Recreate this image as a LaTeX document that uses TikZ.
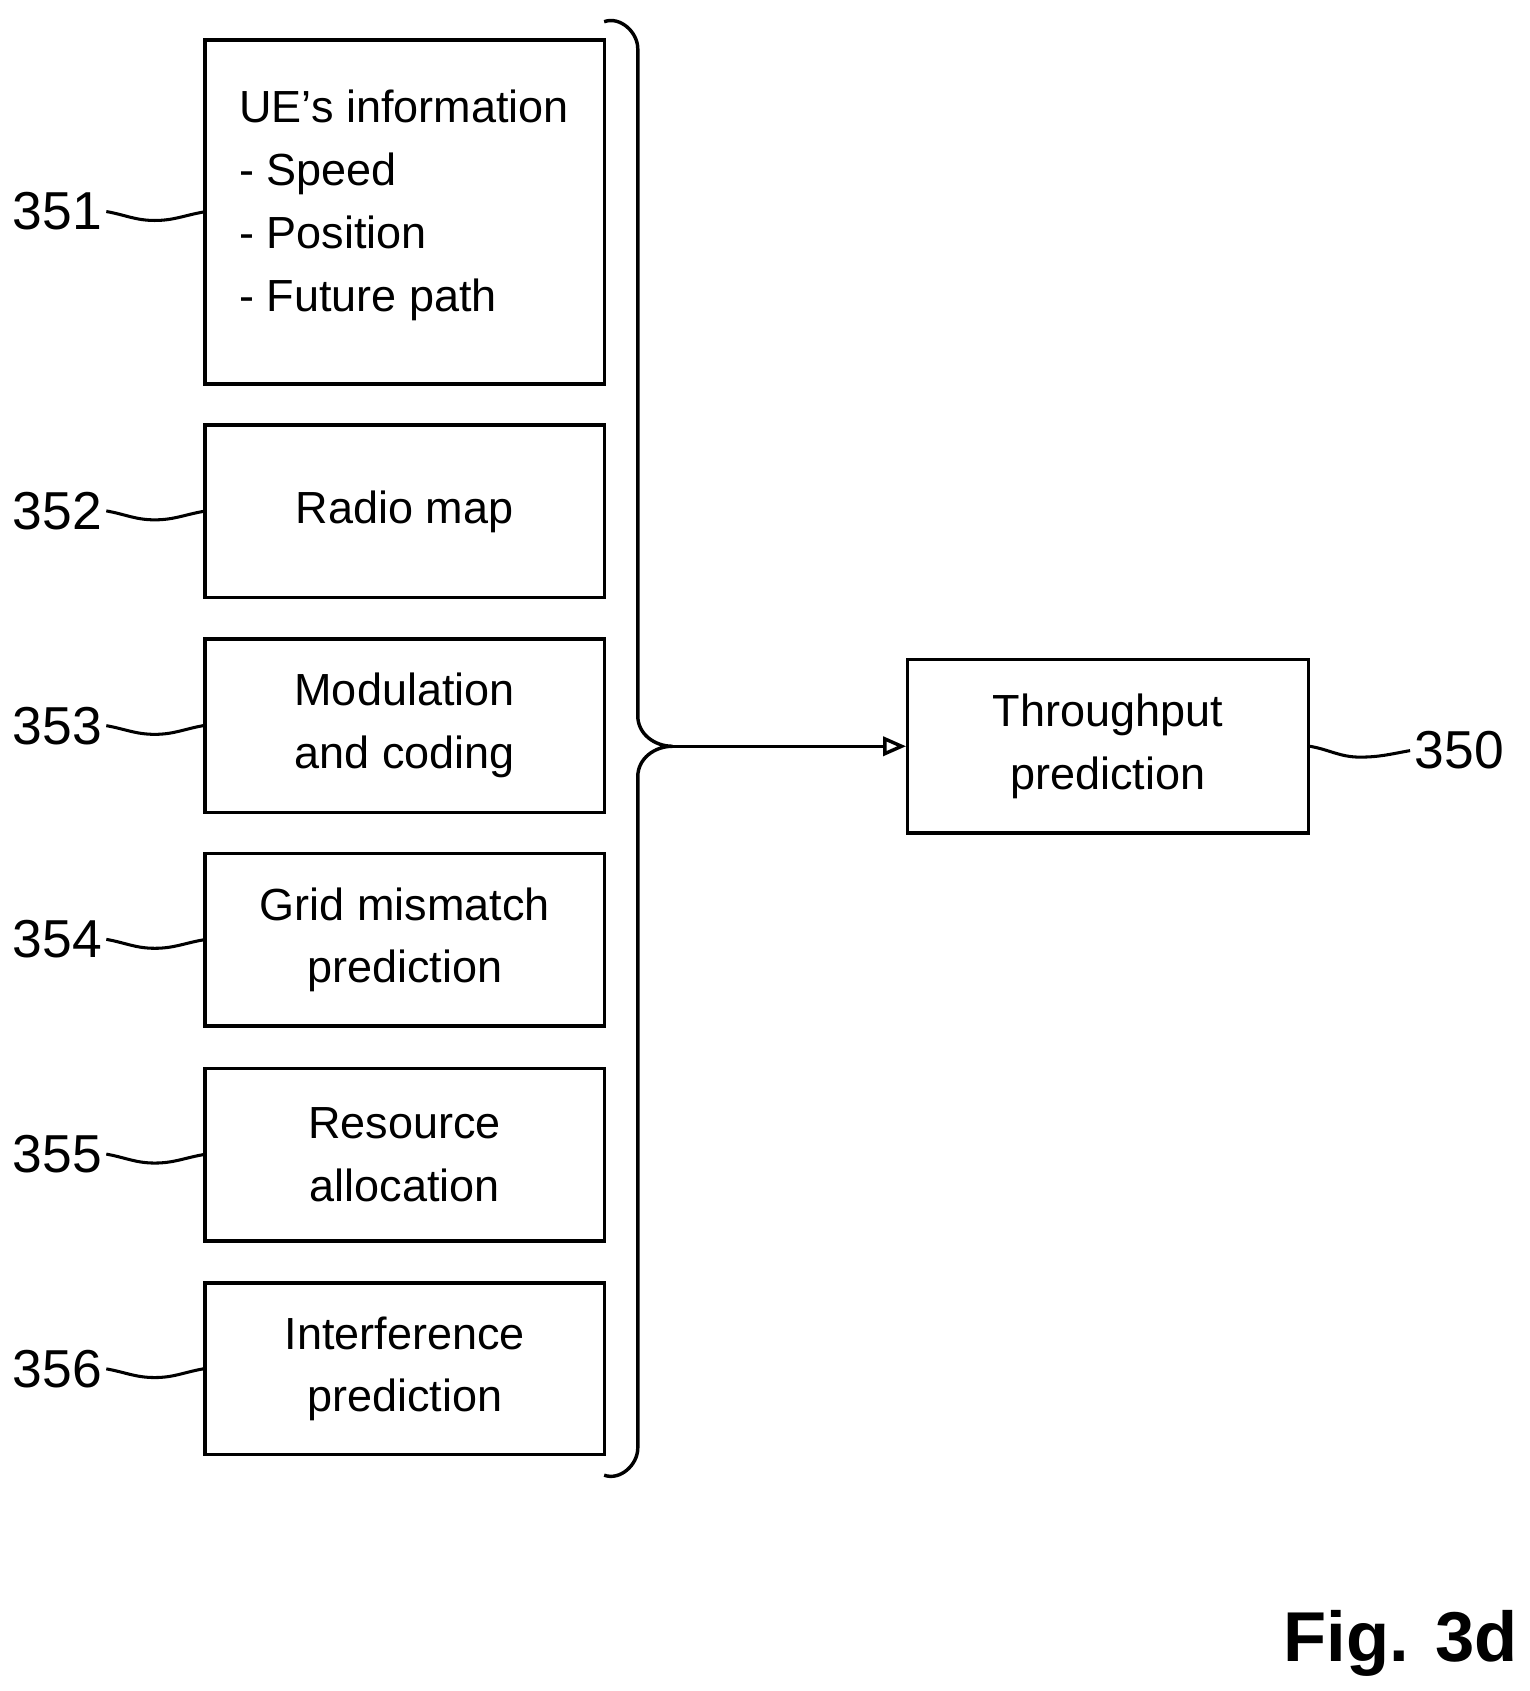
\documentclass[tikz,border=0pt]{standalone}
\usepackage{fontspec}
\setmainfont{Liberation Sans}
\usetikzlibrary{calc,arrows.meta}
\begin{document}
\begin{tikzpicture}[x=0.01cm,y=-0.01cm,
  bx/.style={draw,line width=0.9pt,inner sep=0pt,font=\fontsize{11.8}{16.5}\selectfont,align=center},
  lab/.style={font=\fontsize{14}{17}\selectfont,inner sep=1pt},
  sq/.style={line width=0.8pt}]
\useasboundingbox (0,0) rectangle (1410,1559);
\newcommand{\mybox}[4]{\node[bx,minimum width=3.68cm,minimum height=#3] (#1) at (373,#2) {#4};}
\mybox{b1}{195.5}{3.17cm}{}
\node[font=\fontsize{11.8}{16.5}\selectfont,align=left,anchor=north west,inner sep=0pt] at (220,82) {UE's information\\- Speed\\- Position\\- Future path};
\mybox{b2}{471.5}{1.59cm}{Radio map}
\mybox{b3}{669}{1.60cm}{Modulation\\and coding}
\mybox{b4}{866.5}{1.59cm}{Grid mismatch\\prediction}
\mybox{b5}{1064.5}{1.59cm}{Resource\\allocation}
\mybox{b6}{1262}{1.58cm}{Interference\\prediction}
\node[bx,minimum width=3.69cm,minimum height=1.60cm] (b0) at (1021.5,688) {Throughput\\prediction};
\foreach \n/\y in {1/195,2/471,3/669,4/866,5/1064,6/1262}{
  \node[lab,anchor=east] (l\n) at (98,\y) {35\n};
  \draw[sq] (l\n.east) to[out=-10,in=180] ($(l\n.east)!0.5!(b\n.west)+(0,8)$) to[out=0,in=190] (b\n.west);
}
\node[lab,anchor=west] (l0) at (1300,692) {350};
\draw[sq] (b0.east) to[out=-10,in=180] ($(b0.east)!0.5!(l0.west)+(0,8)$) to[out=0,in=190] (l0.west);
\coordinate (tip) at (620,688);
\draw[line width=0.9pt] (557,20) to[out=20,in=90] (588,45) -- (588,660) to[out=-90,in=180] (tip) to[out=180,in=90] (588,716) -- (588,1335) to[out=-90,in=-20] (557,1360);
\draw[line width=0.9pt,-{Triangle[open,length=6pt,width=5pt]}] (tip) -- (b0.west);
\node[font=\fontsize{18.5}{22}\selectfont\bfseries,anchor=base east,inner sep=0pt] (fig) at (1400,1532) {Fig. 3d};
\end{tikzpicture}
\end{document}
